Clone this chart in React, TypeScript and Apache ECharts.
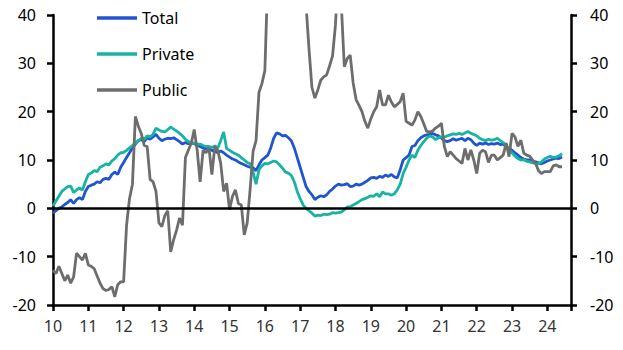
import React, { useEffect, useRef } from "react";
import * as echarts from "echarts";

const START_YEAR = 2010;
const X_MAX = 2024.67;
const yTicks = { min: -20, max: 40, interval: 10 };

// Monthly values, Jan 2010 .. Jun 2024 (12 per row)
const total: number[] = [
  -1, -0.5, 0, 0.3, 0.8, 1.2, 1.8, 1.0, 1.8, 2.2, 1.8, 3.5,
  4.5, 4.8, 5.0, 5.5, 5.3, 6.0, 6.2, 6.0, 7.0, 7.5, 7.0, 8.5,
  9.5, 10.5, 11.5, 12.5, 13.3, 14.0, 14.2, 13.8, 14.6, 14.3, 14.8, 15.3,
  14.5, 14.0, 14.3, 14.5, 14.4, 14.6, 14.2, 13.8, 13.3, 13.6, 13.4, 13.5,
  13.4, 13.0, 12.8, 12.5, 12.3, 12.4, 12.0, 11.8, 11.5, 11.9, 11.5, 11.0,
  10.6, 10.2, 10.0, 9.6, 9.3, 9.0, 8.7, 8.5, 8.4, 7.8, 9.0, 10.0,
  10.5, 11.0, 12.5, 14.5, 15.6, 15.4, 15.0, 15.1, 14.6, 14.0, 12.5, 10.5,
  8.5, 6.5, 4.5, 3.5, 2.8, 1.8, 2.3, 2.6, 2.4, 2.8, 3.5, 4.0,
  4.6, 5.0, 4.8, 4.9, 5.1, 4.5, 4.6, 5.0, 4.8, 5.0, 5.4, 5.8,
  6.3, 6.4, 6.2, 6.6, 6.4, 6.9, 6.6, 7.0, 6.5, 6.3, 8.0, 10.0,
  10.5, 11.0, 12.8, 13.0, 14.0, 14.6, 15.0, 15.2, 15.3, 15.5, 15.2, 15.0,
  14.5, 14.0, 13.8, 14.0, 14.4, 14.1, 14.3, 14.5, 14.0, 14.5, 14.2, 13.5,
  13.0, 13.5, 13.3, 13.5, 13.2, 13.4, 13.3, 13.5, 13.2, 13.3, 12.8, 12.5,
  12.0, 11.5, 11.0, 10.5, 10.2, 10.0, 10.0, 9.8, 9.6, 9.4, 9.2, 9.5,
  9.8, 10.0, 10.2, 10.4, 10.3, 10.6,
];

const privateSector: number[] = [
  0.5, 1.5, 2.5, 3.5, 4.0, 4.5, 4.6, 3.3, 3.8, 4.2, 3.8, 5.5,
  7.0, 7.3, 7.8, 7.6, 8.5, 8.8, 9.2, 9.0, 9.8, 10.3, 11.0, 11.5,
  11.6, 12.0, 12.5, 13.0, 13.5, 14.0, 14.5, 14.3, 15.0, 14.8, 15.3, 16.6,
  16.2, 15.9, 15.8, 16.3, 16.8, 16.4, 16.0, 15.5, 15.0, 14.3, 13.8, 13.6,
  13.5, 13.3, 13.3, 13.0, 12.8, 12.8, 12.6, 12.9, 12.5, 14.0, 15.8, 12.4,
  12.0, 11.6, 11.3, 11.0, 10.5, 10.0, 9.5, 9.2, 7.5, 5.0, 8.0, 8.8,
  9.3, 9.2, 9.5, 9.8, 9.6, 9.0, 8.3, 7.5, 7.3, 6.8, 5.5, 3.5,
  2.0, 0.7, 0, -0.5, -1.0, -1.6, -1.4, -1.5, -1.2, -1.3, -1.2, -0.9,
  -1.0, -0.9, -0.8, -0.3, 0.3, 0.3, 0.7, 1.0, 1.4, 1.8, 2.0, 2.3,
  2.6, 2.5, 3.0, 2.4, 3.4, 3.0, 3.0, 2.7, 3.0, 3.8, 5.0, 7.2,
  8.5, 10.0, 11.0, 10.5, 12.0, 13.0, 13.8, 14.5, 15.0, 14.8, 14.2, 14.6,
  14.8, 14.7, 15.0, 15.2, 15.4, 15.3, 15.5, 15.3, 15.6, 15.9, 15.5, 15.3,
  15.0, 14.5, 14.2, 14.0, 14.3, 14.1, 14.2, 14.5, 14.0, 13.6, 13.0, 12.0,
  11.5, 10.8, 10.3, 10.0, 10.1, 9.7, 9.6, 9.4, 9.3, 9.2, 9.6, 10.2,
  10.5, 10.8, 10.5, 10.6, 10.9, 11.3,
];

const publicSector: number[] = [
  -12.8, -13.5, -12.0, -13.5, -15.0, -13.8, -15.5, -14.2, -9.3, -10.0, -10.7, -9.3,
  -11.7, -12.0, -12.5, -14.0, -15.5, -16.6, -17.0, -16.8, -16.2, -18.3, -15.8, -15.2,
  -15.2, -3.5, 2.0, 5.0, 19.0, 17.0, 15.5, 13.0, 12.8, 6.0, 5.5, 3.5,
  -3.0, -3.8, -1.5, -0.5, -9.0, -6.5, -4.5, -2.0, -3.5, 10.5, 12.0, 13.5,
  16.3, 12.0, 5.5, 12.0, 11.5, 12.5, 7.0, 12.8, 12.0, 9.3, 3.5, 5.2,
  -0.3, 2.5, 3.8, 1.0, 0.7, -5.5, -3.0, 4.0, 11.8, 14.0, 24.0, 25.8,
  28.5, 48, 60, 68, 74, 78, 80, 76, 72, 66, 60, 55,
  50, 48, 42, 33, 25, 22.8, 24.5, 26.5, 27.2, 27.6, 29.5, 31.5,
  38, 50, 42, 29.3, 31.0, 31.7, 26.0, 22.5, 21.3, 20.0, 18.0, 16.6,
  18.5, 20.0, 21.0, 24.5, 21.4, 21.4, 23.4, 22.0, 21.0, 21.5, 22.1, 23.8,
  18.0, 17.6, 17.2, 18.3, 20.0, 19.0, 17.5, 15.9, 15.8, 16.0, 16.6, 17.0,
  17.6, 12.8, 10.7, 11.7, 11.0, 10.3, 9.8, 9.3, 12.4, 10.0, 12.1, 10.0,
  7.2, 11.4, 12.0, 11.7, 9.5, 11.0, 11.0, 10.0, 10.5, 11.0, 13.5, 10.7,
  15.5, 14.8, 12.8, 14.1, 11.4, 11.0, 10.8, 10.0, 9.3, 7.8, 7.2, 7.6,
  7.6, 7.6, 8.8, 9.0, 8.6, 8.6,
];

const seriesNames = ["Total", "Private", "Public"];
const seriesColors = ["#2154d0", "#17b3a3", "#6d6d6d"];

const toPairs = (vals: number[]) => vals.map((v, i) => [START_YEAR + i / 12, v]);

const FONT = "Noto Sans";

export default function App() {
  const ref = useRef<HTMLDivElement>(null);
  useEffect(() => {
    if (!ref.current) return;
    const chart = echarts.init(ref.current, null, { renderer: "svg" });
    const yAxisCommon = {
      type: "value",
      min: yTicks.min,
      max: yTicks.max,
      interval: yTicks.interval,
      splitLine: { show: false },
      axisLine: { show: true, lineStyle: { color: "#000", width: 2.5 } },
      axisTick: { show: true, length: 6, lineStyle: { color: "#000", width: 2.5 } },
    };
    const datasets = [total, privateSector, publicSector];
    chart.setOption({
      animation: false,
      textStyle: { fontFamily: FONT },
      grid: { left: 53, right: 52, top: 15, bottom: 45, containLabel: false },
      legend: {
        left: 97,
        top: 10,
        padding: 0,
        orient: "vertical",
        icon: "rect",
        itemWidth: 40,
        itemHeight: 3.5,
        itemGap: 20,
        data: seriesNames,
        textStyle: { fontFamily: FONT, fontSize: 16, color: "#000", lineHeight: 16 },
      },
      xAxis: {
        type: "value",
        min: START_YEAR,
        max: X_MAX,
        interval: 1,
        splitLine: { show: false },
        axisLine: { onZero: false, lineStyle: { color: "#000", width: 2.5 } },
        axisTick: { show: true, length: 6, lineStyle: { color: "#000", width: 2.5 } },
        axisLabel: {
          fontFamily: FONT,
          fontSize: 16,
          color: "#333",
          margin: 13,
          formatter: (v: number) => (Math.abs(v - Math.round(v)) < 1e-6 ? String(Math.round(v) % 100) : ""),
        },
      },
      yAxis: [
        {
          ...yAxisCommon,
          position: "left",
          axisLabel: { fontFamily: FONT, fontSize: 16, color: "#000", margin: 17 },
        },
        {
          ...yAxisCommon,
          position: "right",
          axisLabel: { fontFamily: FONT, fontSize: 16, color: "#000", margin: 19 },
        },
      ],
      series: datasets.map((vals, k) => ({
        name: seriesNames[k],
        type: "line",
        data: toPairs(vals),
        symbol: "none",
        clip: true,
        lineStyle: { color: seriesColors[k], width: 2.8 },
        itemStyle: { color: seriesColors[k] },
        ...(k === 0
          ? {
              markLine: {
                silent: true,
                symbol: "none",
                label: { show: false },
                lineStyle: { color: "#000", width: 2.5, type: "solid" },
                data: [{ yAxis: 0 }],
              },
            }
          : {}),
      })),
    });
    return () => chart.dispose();
  }, []);
  return (
    <div
      ref={ref}
      style={{ position: "absolute", left: 0, top: 0, width: 623, height: 350, background: "#fff" }}
    />
  );
}
